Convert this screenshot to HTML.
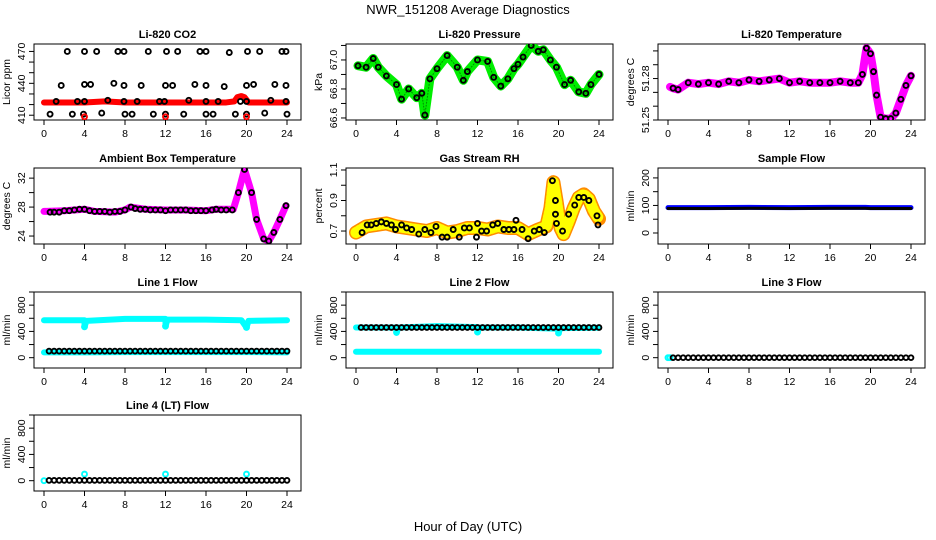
<!DOCTYPE html>
<html><head><meta charset="utf-8"><style>
html,body{margin:0;padding:0;background:#fff;}
svg{display:block;font-family:"Liberation Sans",Arial,sans-serif;}
</style></head><body>
<svg id="c" width="936" height="540" viewBox="0 0 936 540">
<text x="468" y="14" font-size="13" text-anchor="middle">NWR_151208  Average Diagnostics</text>
<text x="468" y="531" font-size="13" text-anchor="middle">Hour of Day (UTC)</text>
</svg>
<script>
// ---------- data ----------
const co2RedHours=[0,2,4,6,8,10,12,14,16,18,18.8,19.1,19.5,19.8,20.2,22,24];
const co2RedVals=[422,422,422,423,422,422,422,422,422,422,423,427,428,427,422,422,422];
const co2BlkHours=[2.3,4,5.2,7.3,7.9,10.3,12.1,13.2,15.4,16,18.3,20.1,21.3,23.5,23.9,
 1.7,4,4.6,6.9,7.9,9.6,12,12.7,14.9,16,17.8,20,20.7,22.8,23.9,
 1.2,3.3,4,6.3,7.9,9.2,11.4,11.9,14.3,16,17.2,19.4,20,22.4,23.9,
 0.6,2.8,3.9,5.7,8,8.7,10.8,12,13.8,16,16.7,18.9,20,21.8,24];
const co2BlkVals=[470,470,470,470,470,470,470,470,470,470,469,470,470,470,470,
 438,439,439,440,438,438,438,438,439,438,437,438,439,439,438,
 423,423,423,424,423,423,423,423,424,423,423,423,423,424,423,
 411,411,411,412,411,411,411,411,411,411,411,411,411,412,411];
const co2LowHours=[4,12,20];
const co2LowVals=[408.5,408.5,408.5];

const presHours=[0.2,1,1.7,2.2,3,4,4.5,5.2,6,6.5,6.8,7.3,8,9,10,10.6,11,12,13,13.6,14.3,15,15.6,16,16.5,17.3,18,18.5,19.2,19.8,20.6,21.2,22,22.7,23.2,24];
const presVals=[66.96,66.95,67.01,66.95,66.89,66.83,66.73,66.8,66.74,66.77,66.62,66.87,66.94,67.03,66.95,66.86,66.92,67.0,66.99,66.88,66.82,66.87,66.94,66.97,67.02,67.1,67.06,67.07,67.0,66.95,66.83,66.86,66.78,66.77,66.83,66.9];

const tempHours=[0.2,0.5,1,2,3,4,5,6,7,8,9,10,11,12,13,14,15,16,17,18,18.8,19.2,19.6,20,20.3,20.6,21,21.5,22,22.5,23,23.5,24];
const tempVals=[51.274,51.273,51.272,51.277,51.276,51.277,51.276,51.278,51.277,51.279,51.278,51.279,51.28,51.277,51.278,51.277,51.277,51.277,51.278,51.277,51.277,51.283,51.302,51.298,51.285,51.268,51.252,51.251,51.251,51.255,51.265,51.275,51.282];

const ambHours=[0,0.3,2,4,5,7,8,8.5,10,12,14,16,17,18.7,19.2,19.8,20.5,21,21.7,22.2,22.7,23.3,23.9];
const ambVals=[27.4,27.4,27.5,27.7,27.4,27.3,27.6,28.0,27.7,27.6,27.6,27.5,27.7,27.7,30,33.2,30,26.3,23.6,23.3,24.5,26.3,28.2];
const ambBlkHours=[0.6,1,1.5,2,2.5,3,3.5,4,4.5,5,5.5,6,6.5,7,7.5,8,8.6,9,9.5,10,10.5,11,11.5,12,12.5,13,13.5,14,14.5,15,15.5,16,16.6,17,17.5,18,18.6,19.2,19.8,20.5,21,21.7,22.2,22.7,23.3,23.9];
const ambBlkVals=[27.3,27.3,27.3,27.5,27.5,27.6,27.7,27.7,27.5,27.4,27.4,27.4,27.3,27.4,27.4,27.6,28.0,27.8,27.7,27.7,27.6,27.6,27.6,27.5,27.6,27.6,27.6,27.6,27.5,27.5,27.5,27.5,27.6,27.7,27.6,27.6,27.6,30,33.2,30,26.3,23.6,23.3,24.5,26.3,28.2];

const rhHours=[0,1,2,3,4,5,6,7,8,9,10,11,12,13,14,15,16,17,18,18.8,19.2,19.5,19.8,20.2,20.5,21,21.5,22,22.5,23,23.5,24];
const rhVals=[0.69,0.73,0.74,0.75,0.73,0.72,0.71,0.70,0.72,0.69,0.70,0.72,0.72,0.71,0.73,0.72,0.72,0.68,0.71,0.73,0.85,1.02,0.90,0.72,0.68,0.76,0.85,0.92,0.94,0.91,0.83,0.78];
const rhBlkHours=[0.6,1.1,1.5,2,2.5,3,3.5,3.9,4.5,5,5.5,6.2,6.8,7.4,7.9,8.5,9,9.6,10.2,10.7,11.2,11.9,12,12.4,12.9,13.5,14,14.6,15.1,15.6,15.8,16.4,17,17.6,18.1,18.6,19.4,19.7,19.7,19.8,20.4,21,21.6,22,22.5,23,23.8,23.9];
const rhBlkVals=[0.69,0.74,0.74,0.75,0.76,0.75,0.74,0.71,0.74,0.72,0.71,0.68,0.71,0.69,0.73,0.66,0.66,0.71,0.66,0.72,0.72,0.66,0.75,0.70,0.70,0.74,0.75,0.71,0.71,0.71,0.77,0.71,0.65,0.70,0.71,0.69,1.03,0.90,0.81,0.75,0.70,0.81,0.87,0.92,0.92,0.90,0.80,0.74];

const sampHours=[0,4,8,12,16,19.5,20,24];
const sampBlue=[92,92,93,92,93,93,92,92];
const sampBlack=[89,89,90,89,90,90,89,89];

const flowHours=[0.5,1,1.5,2,2.5,3,3.5,4,4.5,5,5.5,6,6.5,7,7.5,8,8.5,9,9.5,10,10.5,11,11.5,12,12.5,13,13.5,14,14.5,15,15.5,16,16.5,17,17.5,18,18.5,19,19.5,20,20.5,21,21.5,22,22.5,23,23.5,24];
const l1CyanHours=[0,4,4,4.2,8,12,12,12.2,16,19.5,20,20.2,24];
const l1CyanVals=[570,570,470,560,590,590,480,580,580,570,460,560,570];
const l1CyanLowVals=[80,80,80,80,85,85,85,85,85,85,85,85,80];
const l1BlackVal=100;
const l2CyanHours=[0,4,4,4.2,8,12,12,12.2,16,20,20,20.2,24];
const l2CyanVals=[460,460,380,460,480,465,390,460,460,440,375,450,455];
const l2CyanLowVals=[90,90,90,90,90,90,90,90,90,90,90,90,90];
const l2BlackVal=460;
const l3BlackVal=0;
const l4BlackVal=5;
const l4SpikeHours=[0,4,12,20];
const l4SpikeVals=[0,100,100,100];

// ---------- drawing ----------
const svg=document.getElementById('c');
const NS='http://www.w3.org/2000/svg';
function mk(tag,attrs,parent){const e=document.createElementNS(NS,tag);for(const k in attrs)e.setAttribute(k,attrs[k]);(parent||svg).appendChild(e);return e;}
const cols=[34,346,658], W=267, tops=[44,168,292,415], H=76;
function panel(col,row,title,ylab,ymin,ymax,ticks,labels,name){
  const l=cols[col],t=tops[row],r=l+W,b=t+H;
  const g=mk('g',{});
  
  
  const x=h=>l+10+h*(W-24)/24;
  const y=v=>b-(v-ymin)/(ymax-ymin)*H;
  const bx=mk('rect',{x:l,y:t,width:W,height:H,fill:'none',stroke:'#000','stroke-width':1},g);
  
  
  const tt=mk('text',{x:(l+r)/2,y:t-6,'font-size':11,'font-weight':'bold','text-anchor':'middle'},g);
  tt.textContent=title;
  
  
  for(let h=0;h<=24;h+=4){
    mk('line',{x1:x(h),y1:b,x2:x(h),y2:b+5,stroke:'#000'},g);
    const tx=mk('text',{x:x(h),y:b+17,'font-size':10.5,'text-anchor':'middle'},g);
    tx.textContent=h;
    
    
  }
  ticks.forEach((v,i)=>{
    mk('line',{x1:l,y1:y(v),x2:l-5,y2:y(v),stroke:'#000'},g);
    if(labels[i]!==''){
      const tx=mk('text',{x:l-9,y:y(v),'font-size':10.5,'text-anchor':'middle',transform:`rotate(-90 ${l-9} ${y(v)})`},g);
      tx.textContent=labels[i];
      
      
    }
  });
  const yl=mk('text',{x:l-24,y:(t+b)/2,'font-size':10.5,'text-anchor':'middle',transform:`rotate(-90 ${l-24} ${(t+b)/2})`},g);
  yl.textContent=ylab;
  
  
  const cp=mk('clipPath',{id:'cp'+name},g);
  mk('rect',{x:l,y:t,width:W,height:H},cp);
  const d=mk('g',{'clip-path':`url(#cp${name})`},g);
  return {x,y,d};
}
function band(p,hs,vs,color,w,nm){
  const pts=hs.map((h,i)=>p.x(h)+','+p.y(vs[i])).join(' ');
  const e=mk('polyline',{points:pts,fill:'none',stroke:color,'stroke-width':w,'stroke-linejoin':'round','stroke-linecap':'round'},p.d);
  
  
  return e;
}
function pts(p,hs,vs,color,nm,r,sw){
  hs.forEach((h,i)=>{
    const v=Array.isArray(vs)?vs[i]:vs;
    const c=mk('circle',{cx:p.x(h),cy:p.y(v),r:r||2.5,fill:'none',stroke:color,'stroke-width':sw||1.9},p.d);
    
    
  });
}
// CO2
let p=panel(0,0,'Li-820 CO2','Licor ppm',405.5,477,[410,420,430,440,450,460,470],['410','','','440','','','470'],'co2');
band(p,co2RedHours,co2RedVals,'#ff0000',6,'co2-red-series');
pts(p,co2BlkHours,co2BlkVals,'#000','co2-point');
pts(p,co2LowHours,co2LowVals,'#ff0000','co2-red-point');
// Pressure
p=panel(1,0,'Li-820 Pressure','kPa',66.586,67.11,[66.6,66.7,66.8,66.9,67.0,67.1],['66.6','','66.8','','67.0',''],'pressure');
band(p,presHours,presVals,'#00ee00',9,'pressure-green-series');
band(p,presHours,presVals,'#008800',1,'pressure-green-dots').setAttribute('stroke-dasharray','1 2');
pts(p,presHours,presVals,'#000','pressure-point');
// Temperature
p=panel(2,0,'Li-820 Temperature','degrees C',51.25,51.305,[51.25,51.26,51.27,51.28,51.29,51.30],['51.25','','','51.28','',''],'li820-temp');
band(p,tempHours,tempVals,'#ff00ff',8,'temp-magenta-series');
pts(p,tempHours.slice(1),tempVals.slice(1),'#000','temp-point');
// Ambient
p=panel(0,1,'Ambient Box Temperature','degrees C',22.9,33.4,[24,26,28,30,32],['24','','28','','32'],'ambient');
band(p,ambHours,ambVals,'#ff00ff',7,'ambient-magenta-series');
pts(p,ambBlkHours,ambBlkVals,'#000','ambient-point');
// RH
p=panel(1,1,'Gas Stream RH','percent',0.615,1.113,[0.7,0.8,0.9,1.0,1.1],['0.7','','0.9','','1.1'],'rh');
band(p,rhHours,rhVals,'#ff8c00',14,'rh-orange-series');
band(p,rhHours,rhVals,'#ffff00',11,'rh-yellow-dots').setAttribute('stroke-dasharray','1.5 2.5');
pts(p,rhBlkHours,rhBlkVals,'#000','rh-point');
// Sample flow
p=panel(2,1,'Sample Flow','ml/min',-40,236,[0,50,100,150,200],['0','','100','','200'],'sample-flow');
band(p,sampHours,sampBlue,'#0000ff',5,'sample-blue-series');
band(p,sampHours,sampBlack,'#000',3,'sample-black-series');
const flowTicks=[0,200,400,600,800,1000], flowLabels=['0','','400','','800',''];
// Line 1
p=panel(0,2,'Line 1 Flow','ml/min',-157,1000,flowTicks,flowLabels,'line1');
band(p,l1CyanHours,l1CyanVals,'#00ffff',6,'line1-cyan-high');
pts(p,[4,12,20],[470,480,460],'#00ffff','line1-cyan-dip');
band(p,l1CyanHours,l1CyanLowVals,'#00ffff',6,'line1-cyan-low');
pts(p,flowHours,l1BlackVal,'#000','line1-point',2.4,1.9);
// Line 2
p=panel(1,2,'Line 2 Flow','ml/min',-157,1000,flowTicks,flowLabels,'line2');
band(p,l2CyanHours,l2CyanVals,'#00ffff',6,'line2-cyan-high');
pts(p,[4,12,20],[385,390,375],'#00ffff','line2-cyan-dip');
band(p,l2CyanHours,l2CyanLowVals,'#00ffff',6,'line2-cyan-low');
pts(p,flowHours,l2BlackVal,'#000','line2-point',2.4,1.9);
// Line 3
p=panel(2,2,'Line 3 Flow','ml/min',-157,1000,flowTicks,flowLabels,'line3');
pts(p,[0,0.2],[0,0],'#00ffff','line3-cyan-point');
pts(p,flowHours,l3BlackVal,'#000','line3-point',2.4,1.9);
// Line 4
p=panel(0,3,'Line 4 (LT) Flow','ml/min',-157,1000,flowTicks,flowLabels,'line4');
pts(p,l4SpikeHours,l4SpikeVals,'#00ffff','line4-cyan-point');
pts(p,flowHours,l4BlackVal,'#000','line4-point',2.4,1.9);
</script>
</body></html>
